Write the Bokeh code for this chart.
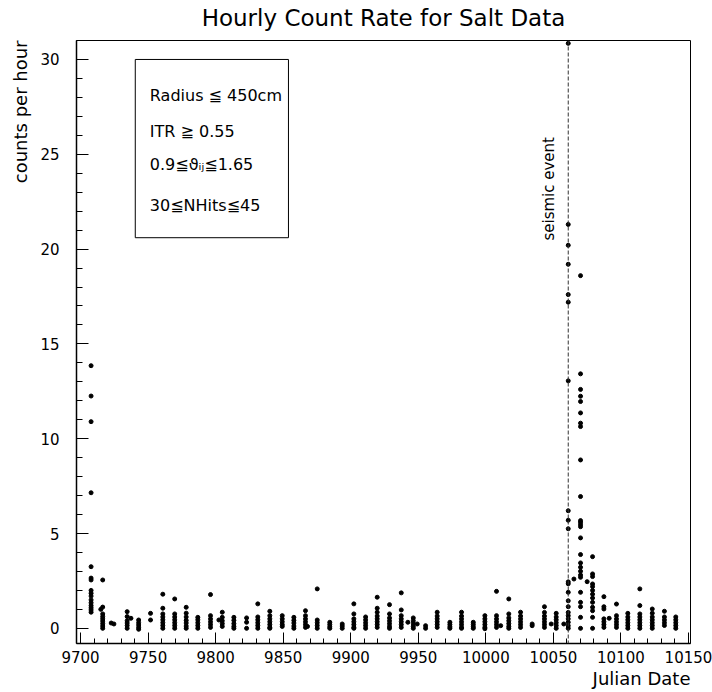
import math
from bokeh.plotting import figure
from bokeh.models import (ColumnDataSource, Range1d, SingleIntervalTicker, Span,
                          Label, BoxAnnotation, Title)
from bokeh.embed import file_html
from bokeh.resources import INLINE

FONT = "DejaVu Sans"

# ---- data ----
dates = [9707.8, 9715.0, 9716.4, 9722.7, 9724.7, 9734.5, 9737.3, 9743.0, 9751.8,
         9760.9, 9769.7, 9778.2, 9786.8, 9796.2, 9802.4, 9804.9, 9813.5, 9822.9,
         9831.2, 9840.1, 9849.3, 9857.9, 9866.5, 9868.0, 9875.2, 9884.5, 9893.7,
         9902.3, 9911.0, 9919.6, 9928.7, 9937.4, 9942.3, 9946.3, 9949.2, 9955.4,
         9964.0, 9973.4, 9982.0, 9990.7, 9999.3, 10007.9, 10011.0, 10017.0,
         10025.7, 10034.3, 10043.4, 10048.4, 10052.1, 10057.7, 10061.0, 10065.2,
         10070.1, 10075.0, 10079.0, 10087.4, 10091.3, 10096.7, 10105.1, 10114.0,
         10123.2, 10132.2, 10140.6]

rates = [
    [13.85, 12.25, 10.9, 7.15, 3.25, 2.65, 2.55, 2.0, 1.85, 1.7, 1.5, 1.35, 1.2, 1.08, 0.97, 0.85],
    [1.0],
    [2.55, 1.12, 0.76, 0.62, 0.5, 0.38, 0.25, 0.12, 0.0],
    [0.28],
    [0.23],
    [0.88, 0.62, 0.4, 0.28, 0.15, 0.0],
    [0.53],
    [0.44, 0.3, 0.18, 0.05, -0.05],
    [0.79, 0.44],
    [1.8, 1.06, 0.76, 0.6, 0.45, 0.3, 0.15, 0.0],
    [1.55, 0.76, 0.6, 0.45, 0.3, 0.15, 0.0],
    [1.11, 0.8, 0.6, 0.42, 0.28, 0.12, 0.0],
    [0.58, 0.45, 0.3, 0.15, 0.0],
    [1.78, 0.67, 0.5, 0.35, 0.2, 0.05],
    [0.44],
    [0.85, 0.58, 0.4, 0.25, 0.1],
    [0.58, 0.42, 0.25, 0.1, 0.0],
    [0.55, 0.32, 0.0],
    [1.29, 0.6, 0.45, 0.3, 0.15, 0.0],
    [0.9, 0.67, 0.5, 0.35, 0.2, 0.05, 0.0],
    [0.67, 0.5, 0.35, 0.2, 0.1],
    [0.58, 0.42, 0.28, 0.12, 0.0],
    [0.93, 0.67, 0.5, 0.35, 0.2, 0.05],
    [0.1],
    [2.08, 0.44, 0.3, 0.15, 0.0],
    [0.32, 0.2, 0.08, 0.0],
    [0.23, 0.12, 0.0],
    [1.29, 0.76, 0.5, 0.35, 0.2, 0.05, 0.0],
    [0.6, 0.45, 0.3, 0.15, 0.0],
    [1.64, 1.06, 0.85, 0.65, 0.5, 0.35, 0.2, 0.05],
    [1.25, 0.76, 0.55, 0.4, 0.25, 0.1, 0.0],
    [1.87, 0.97, 0.67, 0.5, 0.35, 0.2, 0.05],
    [0.32],
    [0.55, 0.4, 0.25, 0.1, 0.0],
    [0.23],
    [0.14, 0.0],
    [0.85, 0.65, 0.5, 0.35, 0.2, 0.05],
    [0.32, 0.2, 0.08, 0.0],
    [0.85, 0.65, 0.5, 0.35, 0.2, 0.05, 0.0],
    [0.32, 0.2, 0.08, 0.0],
    [0.67, 0.5, 0.35, 0.2, 0.05, -0.02],
    [1.95, 0.67, 0.5, 0.35, 0.2, 0.05],
    [0.14],
    [1.55, 0.76, 0.55, 0.4, 0.25, 0.1, 0.0],
    [0.85, 0.65, 0.5, 0.35, 0.2, 0.05],
    [0.23, 0.14],
    [1.14, 0.84, 0.65, 0.5, 0.35, 0.2, 0.05],
    [0.23],
    [0.79, 0.6, 0.45, 0.3, 0.15, 0.0],
    [0.23],
    [30.85, 21.3, 20.2, 19.2, 17.6, 17.2, 13.05, 6.2, 5.7, 5.25, 2.45, 2.35, 1.9,
     1.45, 1.14, 0.84, 0.67, 0.5, 0.32, 0.14, 0.0],
    [2.6],
    [18.6, 13.42, 12.6, 12.24, 11.96, 11.36, 10.82, 10.64, 8.88, 6.95, 5.68, 5.59,
     5.47, 5.36, 4.77, 3.89, 3.45, 3.22, 3.01, 2.81, 2.69, 1.9, 1.37, 1.14, 0.58, 0.0],
    [2.46],
    [3.78, 2.87, 2.73, 2.34, 2.2, 2.0, 1.8, 1.6, 1.37, 1.11, 0.93, 0.58, 0.0],
    [1.67, 1.14, 1.02, 0.5, 0.35, 0.2, 0.05],
    [0.53],
    [1.28, 0.67, 0.5, 0.35, 0.2, 0.05],
    [0.79, 0.6, 0.45, 0.3, 0.15, 0.0],
    [2.08, 1.2, 0.76, 0.6, 0.45, 0.3, 0.15, 0.0],
    [1.02, 0.8, 0.6, 0.45, 0.3, 0.15, 0.0],
    [0.9, 0.6, 0.45, 0.3, 0.15],
    [0.6, 0.45, 0.3, 0.15, 0.0],
]

seismic_date = 10061.0
cut_lines = ["Radius \u2266 450cm", "ITR \u2267 0.55",
             "0.9\u2266\u03d1\u1d62\u2c7c\u22661.65", "30\u2266NHits\u226645"]
cut_y = [28.12, 26.22, 24.45, 22.3]

xs, ys = [], []
for d, col in zip(dates, rates):
    for v in col:
        xs.append(d)
        ys.append(v)
src = ColumnDataSource(dict(x=xs, y=ys))

p = figure(frame_width=614, frame_height=603, output_backend="svg",
           toolbar_location=None, x_range=Range1d(9697.0, 10151.5),
           y_range=Range1d(-0.8, 31.0),
           min_border_left=76, min_border_right=22, min_border_top=40,
           min_border_bottom=49, background_fill_color="white",
           border_fill_color="white")

p.xgrid.visible = False
p.ygrid.visible = False
p.outline_line_color = "black"
p.outline_line_width = 1

p.xaxis.ticker = SingleIntervalTicker(interval=50, num_minor_ticks=5)
p.yaxis.ticker = SingleIntervalTicker(interval=5, num_minor_ticks=5)
for ax in (p.xaxis[0], p.yaxis[0]):
    ax.axis_line_color = "black"
    ax.axis_line_width = 1.5
    ax.major_tick_line_color = "black"
    ax.minor_tick_line_color = "black"
    ax.major_tick_out = 0
    ax.minor_tick_out = 0
    ax.major_label_text_font = FONT
    ax.major_label_text_font_size = "15px"
    ax.major_label_text_color = "black"
p.xaxis.major_tick_in = 11
p.xaxis.minor_tick_in = 5
p.yaxis.major_tick_in = 12
p.yaxis.minor_tick_in = 6
p.xaxis.major_label_standoff = 7
p.yaxis.major_label_standoff = 17

p.scatter("x", "y", source=src, size=4, color="black", marker="circle")

p.add_layout(Span(location=seismic_date, dimension="height", line_color="#333333",
                  line_dash="4 2", line_width=1))
p.add_layout(Label(x=10046.7, y=20.45, text="seismic event", angle=math.pi / 2,
                   text_align="left", text_baseline="middle", text_font=FONT,
                   text_font_size="15px", text_color="black"))

p.add_layout(BoxAnnotation(left=9740.5, right=9853.9, top=30.0, bottom=20.6,
                           fill_alpha=0, line_color="black", line_alpha=1.0,
                           line_width=1))
for t, yv in zip(cut_lines, cut_y):
    p.add_layout(Label(x=9751.3, y=yv, text=t, text_align="left",
                       text_baseline="alphabetic", text_font=FONT,
                       text_font_size="16px", text_color="black"))

# spacer between frame and the main title (added first -> nearest the frame)
p.add_layout(Title(text=" ", text_font_size="1px", standoff=7), "above")
p.add_layout(Title(text="Hourly Count Rate for Salt Data", align="center",
                   vertical_align="bottom", text_font=FONT, text_font_size="23px",
                   text_font_style="normal", text_color="black", standoff=0),
             "above")
p.add_layout(Title(text="Julian Date", align="right", text_font=FONT,
                   text_font_size="18px", text_font_style="normal",
                   text_color="black", standoff=0), "below")
p.add_layout(Title(text="counts per hour", align="right", text_font=FONT,
                   text_font_size="18px", text_font_style="normal",
                   text_color="black", standoff=13), "left")

open("out.html", "w").write(file_html(p, INLINE))
